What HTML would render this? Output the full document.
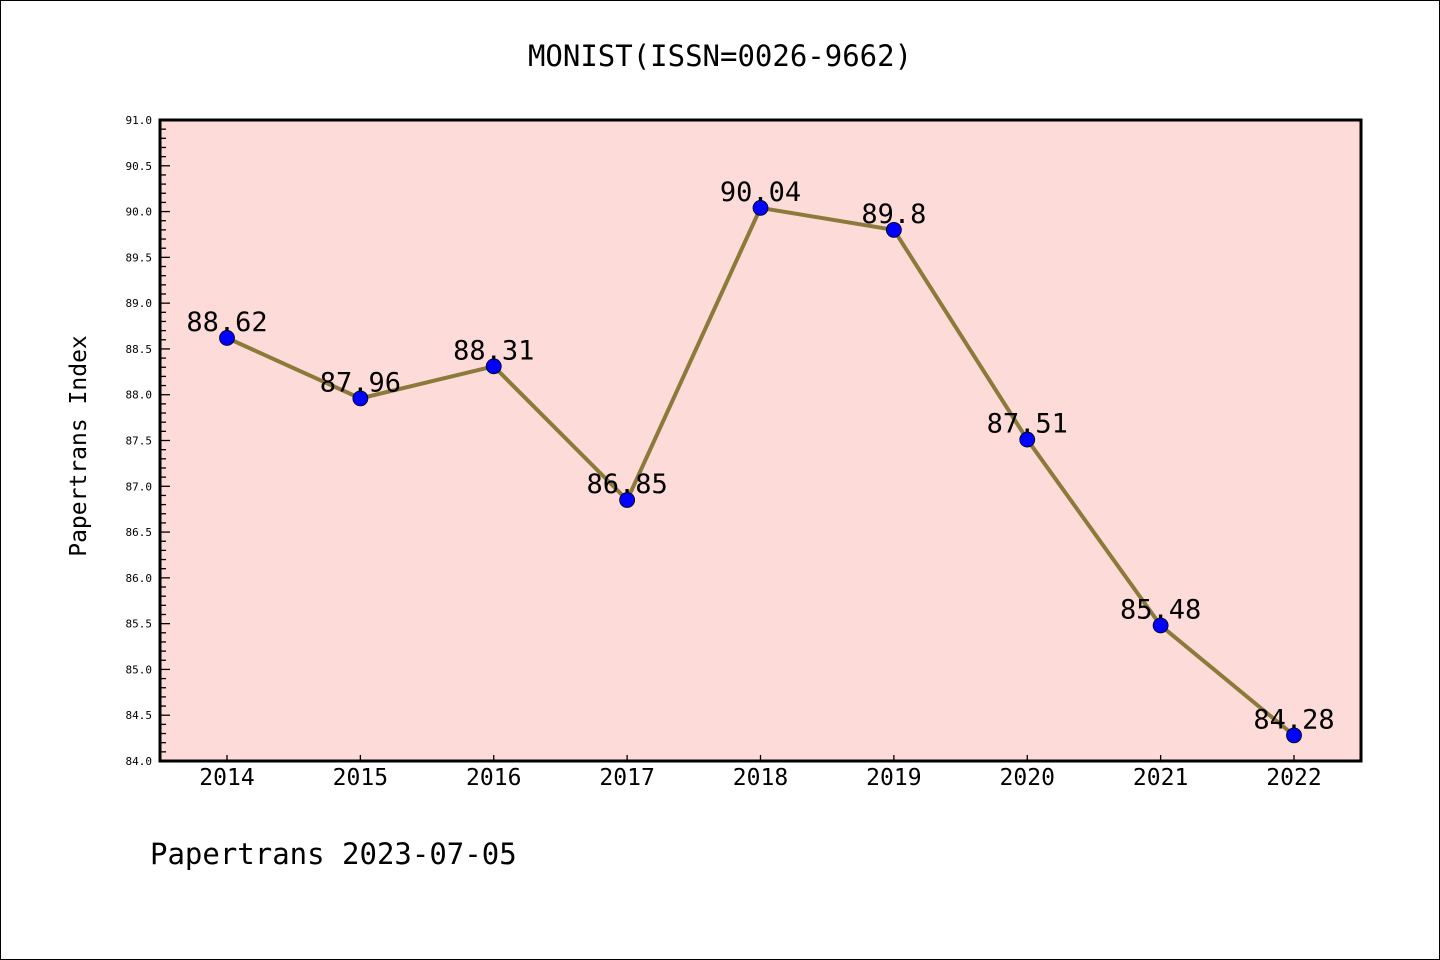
<!DOCTYPE html>
<html><head><meta charset="utf-8"><style>
html,body{margin:0;padding:0;background:#fff;}
svg{display:block;}
text{font-family:"WenQuanYi Zen Hei","DejaVu Sans Mono",sans-serif;}
</style></head><body>
<svg id="chart" width="1440" height="960">
<rect x="0.5" y="0.5" width="1439" height="959" fill="#fff" stroke="#000"/>
<text x="720" y="66" text-anchor="middle" font-size="29">MONIST(ISSN=0026-9662)</text>
<rect x="160" y="120" width="1201" height="641" fill="#fddbd8"/>
<g id="yticks"></g>
<g id="xticks"></g>
<g id="series"></g>
<rect x="160" y="120" width="1201" height="641" fill="none" stroke="#000" stroke-width="3"/>
<text x="86" y="446" text-anchor="middle" font-size="23" transform="rotate(-90 86 446)">Papertrans Index</text>
<text x="150" y="864" font-size="29">Papertrans 2023-07-05</text>
</svg>
<script>
const years=["2014","2015","2016","2017","2018","2019","2020","2021","2022"];
const values=[88.62,87.96,88.31,86.85,90.04,89.8,87.51,85.48,84.28];
const labels=["88.62","87.96","88.31","86.85","90.04","89.8","87.51","85.48","84.28"];
const yMin=84,yMax=91;
const NS="http://www.w3.org/2000/svg";
const X0=160,X1=1361,Y0=761,Y1=120;
function xs(i){return 227+i*(1294-227)/(years.length-1);}
function ys(v){return Y0-(v-yMin)/(yMax-yMin)*(Y0-Y1);}
function mk(tag,attrs,parent){const e=document.createElementNS(NS,tag);for(const k in attrs)e.setAttribute(k,attrs[k]);parent.appendChild(e);return e;}
const yg=document.getElementById('yticks');
for(let k=0;k<=70;k++){const v=yMin+k*0.1;const y=ys(v);const major=k%5===0;
 const t=mk('line',{x1:X0,x2:X0+(major?10:6),y1:y,y2:y,stroke:'#000','stroke-width':1.3},yg);
 
 
 if(major){const l=mk('text',{x:152,y:y+4,'text-anchor':'end','font-size':11},yg);l.textContent=v.toFixed(1);
 
 }
}
const xg=document.getElementById('xticks');
years.forEach((yr,i)=>{const x=xs(i);
 const t=mk('line',{x1:x,x2:x,y1:Y0,y2:Y0-6,stroke:'#000','stroke-width':1.3},xg);
 
 
 const l=mk('text',{x:x,y:785,'text-anchor':'middle','font-size':23},xg);l.textContent=yr;
 
 
});
const sg=document.getElementById('series');
const pts=values.map((v,i)=>xs(i)+','+ys(v)).join(' ');
const pl=mk('polyline',{points:pts,fill:'none',stroke:'#8b7a3a','stroke-width':4,'stroke-linejoin':'round'},sg);


values.forEach((v,i)=>{
 const c=mk('circle',{cx:xs(i),cy:ys(v),r:7.5,fill:'#0000ff',stroke:'#000','stroke-width':0.8},sg);
 
 
 const l=mk('text',{x:xs(i),y:ys(v)-7,'text-anchor':'middle','font-size':27},sg);l.textContent=labels[i];
 
 
});
</script>
</body></html>
